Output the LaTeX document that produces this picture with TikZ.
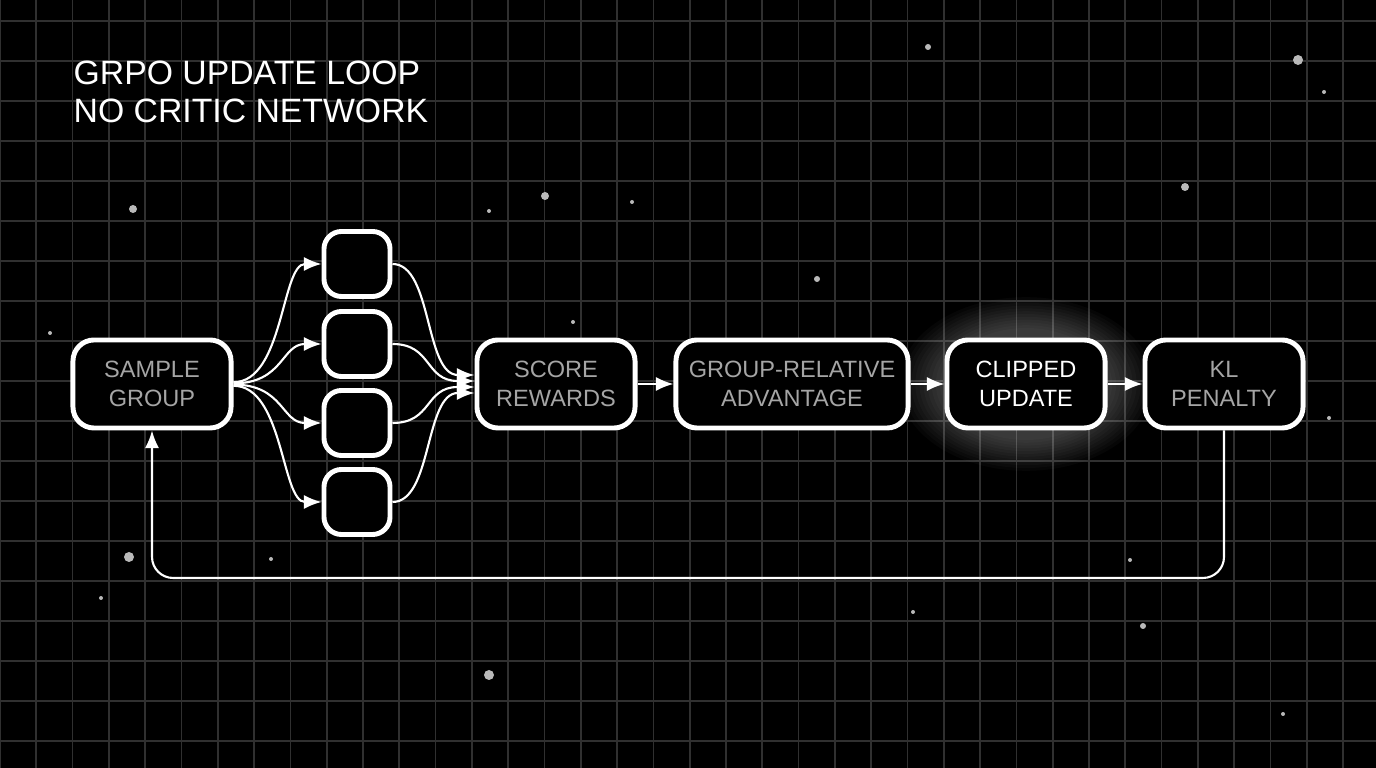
\documentclass[tikz,border=0pt]{standalone}
\usepackage{fontspec}
\setmainfont{Liberation Sans}
\usetikzlibrary{arrows.meta,positioning,calc}
\definecolor{gridgray}{RGB}{48,48,48}
\definecolor{textgray}{RGB}{165,165,165}
\tikzset{
  stage/.style={draw=white,line width=1.4pt,rounded corners=6pt,fill=black,
    minimum width=1.58cm,minimum height=0.88cm,align=center,
    text=textgray,font=\fontsize{6.7pt}{8.2pt}\selectfont},
  cand/.style={draw=white,line width=1.4pt,rounded corners=5pt,fill=black,
    minimum width=0.66cm,minimum height=0.65cm},
  flow/.style={white,line width=0.6pt,-{Latex[length=5pt,width=4pt]}},
  star/.style={fill=gray!55},
}
\begin{document}
\begin{tikzpicture}[x=0.01cm,y=-0.01cm]
	\fill[black] (0,0) rectangle (1376,768);
	\useasboundingbox (0,0) rectangle (1376,768);
	% grid
	\foreach \i in {0,...,38}
	\draw[gridgray,line width=0.5pt] (36.3*\i,0) -- (36.3*\i,768);
	\foreach \j in {0,...,19}
	\draw[gridgray,line width=0.5pt] (0,20.7+40*\j) -- (1376,20.7+40*\j);
	% stars
	\foreach \x/\y/\r in {133/209/4,545/196/4,489/211/2,928/47/3,1185/187/4,1298/60/5,
		1324/92/2,817/279/3,50/333/2,129/557/5,271/559/2,573/322/2,1130/560/2,
		1143/626/3,489/675/5,1283/714/2,101/598/2,913/612/2,632/202/2,1329/418/2}
	\fill[star] (\x,\y) circle (\r);
	% title
	\node[anchor=west,white,font=\fontsize{9.6pt}{11pt}\selectfont,align=left,inner sep=0pt] (title) at (73,92)
		{GRPO UPDATE LOOP\\NO CRITIC NETWORK};
	% glow
	\foreach \s in {1.0,1.05,...,1.6}
	\fill[white,opacity=0.025] (1026,384) ellipse ({82*\s} and {56*\s});
	% main stages
	\node[stage] (sample) at (152,384) {SAMPLE\\GROUP};
	\node[stage] (score) at (556,384) {SCORE\\REWARDS};
	\node[stage,minimum width=2.32cm] (adv) at (792,384) {GROUP-RELATIVE\\ADVANTAGE};
	\node[stage,text=white] (clip) at (1026,384) {CLIPPED\\UPDATE};
	\node[stage] (kl) at (1224,384) {KL\\PENALTY};
	% group candidates
	\foreach \n/\y in {1/264,2/344,3/423,4/502}
	\node[cand] (c\n) at (357,\y) {};
	\foreach \n/\k in {1/-9,2/-3,3/3,4/9}
	{
	\draw[flow] ($(sample.east)+(0,\k*0.2)$) .. controls +(50,0) and +(-40,0) .. (c\n.west);
	\draw[flow] (c\n.east) .. controls +(40,0) and +(-50,0) .. ($(score.west)+(0,\k)$);
	}
	\draw[flow] (score) -- (adv);
	\draw[flow] (adv) -- (clip);
	\draw[flow] (clip) -- (kl);
	% feedback
	\coordinate (fbr) at (1224,578);
	\coordinate (fbl) at (152,578);
	\draw[flow,rounded corners=6pt] (kl.south) -- (fbr) -- (fbl) -- (sample.south);
\end{tikzpicture}
\end{document}
